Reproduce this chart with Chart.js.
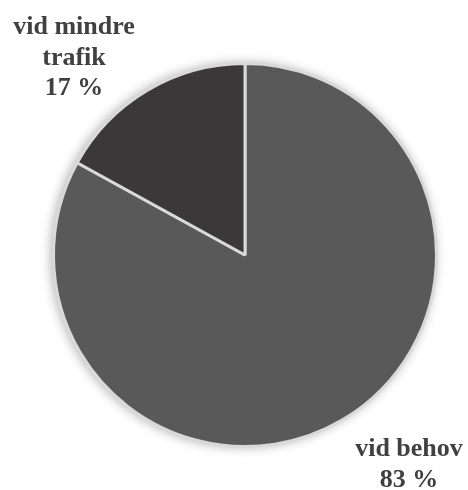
<!DOCTYPE html>
<html>
<head>
<meta charset="utf-8">
<script src="https://cdn.jsdelivr.net/npm/chart.js@4"></script>
<style>
html,body{margin:0;padding:0;background:#fff;}
#wrap{position:relative;width:468px;height:490px;}
</style>
</head>
<body>
<div id="wrap"><canvas id="c" width="468" height="490"></canvas></div>
<script>
const categories = ["vid behov", "vid mindre trafik"];
const values = [83, 17];
const labelLines = [["vid behov", "83 %"], ["vid mindre", "trafik", "17 %"]];
const colors = ["#595959", "#3a3838"];

const shadowPlugin = {
  id: 'shadow',
  beforeDatasetsDraw(chart) {
    const arc = chart.getDatasetMeta(0).data[0];
    if (!arc) return;
    const ctx = chart.ctx;
    ctx.save();
    ctx.shadowColor = 'rgba(0,0,0,0.35)';
    ctx.shadowBlur = 12;
    ctx.shadowOffsetX = -2;
    ctx.shadowOffsetY = 0;
    ctx.fillStyle = '#595959';
    ctx.beginPath();
    ctx.arc(arc.x, arc.y, arc.outerRadius, 0, Math.PI * 2);
    ctx.fill();
    ctx.restore();
  }
};

const labelPlugin = {
  id: 'sliceLabels',
  afterDraw(chart) {
    const ctx = chart.ctx;
    const pos = [{x: 409, y: 456}, {x: 74, y: 34}];
    ctx.save();
    ctx.font = 'bold 26px "Liberation Serif", "Times New Roman", serif';
    ctx.fillStyle = '#404040';
    ctx.textAlign = 'center';
    ctx.textBaseline = 'alphabetic';
    labelLines.forEach((lines, i) => {
      lines.forEach((t, j) => {
        ctx.fillText(t, pos[i].x, pos[i].y + j * 30.5);
      });
    });
    ctx.restore();
  }
};

new Chart(document.getElementById('c'), {
  type: 'pie',
  data: {
    labels: categories,
    datasets: [{
      data: values,
      backgroundColor: colors,
      borderColor: '#d9d9d9',
      borderWidth: 3
    }]
  },
  options: {
    responsive: false,
    animation: false,
    layout: {padding: {left: 52, right: 30, top: 62, bottom: 42}},
    plugins: {legend: {display: false}, tooltip: {enabled: false}}
  },
  plugins: [shadowPlugin, labelPlugin]
});
</script>
</body>
</html>
